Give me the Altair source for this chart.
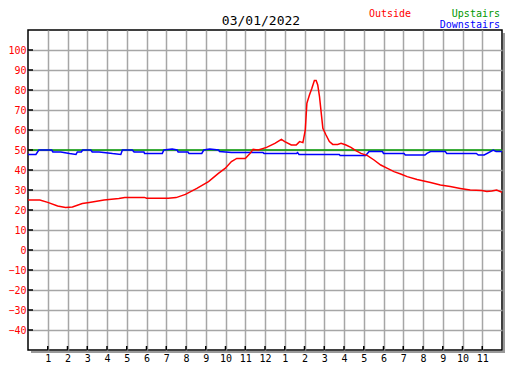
import altair as alt
import pandas as pd

# ---- data ----
hour_ticks = list(range(1, 24))
temp_ticks = list(range(-40, 101, 10))

out_h = [0, 0.6, 1.0, 1.5, 1.9, 2.25, 2.75, 3.1, 3.85, 4.6, 4.9, 5.9, 6.0, 7.1, 7.5,
         7.97, 8.55, 9.14, 9.64, 9.98, 10.3, 10.57, 11.0, 11.24, 11.4, 11.66, 12.08,
         12.5, 12.83, 13.0, 13.33, 13.58, 13.75, 13.92, 14.04, 14.12, 14.25, 14.37,
         14.5, 14.59, 14.67, 14.76, 14.84, 14.93, 15.09, 15.26, 15.43, 15.68, 15.85,
         16.1, 16.35, 16.6, 16.86, 17.19, 17.52, 17.86, 18.2, 18.53, 18.87, 19.2,
         19.7, 20.38, 20.88, 21.38, 21.89, 22.39, 22.98, 23.23, 23.48, 23.73, 24.0]
out_v = [25, 25, 23.8, 22, 21.3, 21.5, 23.2, 23.8, 25, 25.8, 26.3, 26.3, 25.9, 25.9, 26.2,
         27.8, 30.8, 34.2, 38.3, 40.8, 44.2, 45.8, 45.8, 48.3, 50.3, 50, 51.3,
         53.3, 55.3, 54.2, 52.5, 52.5, 54.2, 53.7, 60, 73.3, 77.5, 80.8,
         84.7, 84.7, 82.5, 76.7, 69.2, 60.8, 57.5, 54.2, 52.8, 52.8, 53.3,
         52.5, 51.3, 49.7, 48.3, 47.2, 45, 42.5, 40.8, 39.2, 38, 36.7,
         35.3, 33.7, 32.5, 31.7, 30.8, 30, 29.7, 29.2, 29.5, 30, 28.8]

up_h = [0, 24]
up_v = [50, 50]

down_h = [0, 0.4, 0.55, 1.2, 1.26, 1.66, 2.1, 2.43, 2.5, 2.7, 2.77, 3.18, 3.25, 3.6,
          4.28, 4.7, 4.78, 5.28, 5.37, 5.87, 5.9, 6.8, 6.88, 7.3, 7.55, 7.6, 8.1,
          8.15, 8.8, 8.9, 9.2, 9.65, 9.7, 10.3, 11.9, 11.95, 13.6, 13.65, 13.72,
          15.76, 15.8, 17.1, 17.27, 17.95, 18.0, 19.04, 19.1, 20.1, 20.2, 20.38,
          21.13, 21.2, 22.7, 22.8, 23.1, 23.56, 23.7, 24.0]
down_v = [47.8, 47.8, 50, 50, 49, 49, 48.2, 47.8, 49, 49, 50, 50, 49, 49,
          48.2, 47.8, 50, 50, 49, 49, 48.3, 48.3, 50, 50.5, 50, 49, 49,
          48.3, 48.3, 50, 50.5, 50, 49.2, 48.7, 48.7, 48.3, 48.3, 48.7, 47.8,
          47.8, 47.3, 47.3, 49.2, 49.2, 48.3, 48.3, 47.5, 47.5, 48.3, 49.2,
          49.2, 48.3, 48.3, 47.5, 47.5, 50, 49.2, 49.2]

W, H = 474, 320
MONO = "DejaVu Sans Mono"

xs = alt.Scale(domain=[0, 24], nice=False, zero=False)
ys = alt.Scale(domain=[-50, 110], nice=False, zero=False)

df_out = pd.DataFrame({"h": out_h, "v": out_v})
df_up = pd.DataFrame({"h": up_h, "v": up_v})
df_down = pd.DataFrame({"h": down_h, "v": down_v})
df_xt = pd.DataFrame({"h": hour_ticks})
df_yt = pd.DataFrame({"v": temp_ticks})
one = pd.DataFrame({"a": [0]})

x_axis = alt.Axis(values=hour_ticks, grid=True, gridColor="#a6a6a6", gridWidth=1.5,
                  domain=False, ticks=False, tickSize=0, labelPadding=3,
                  labelFont=MONO, labelFontSize=10, labelColor="black",
                  labelExpr="datum.value % 12 == 0 ? '12' : '' + (datum.value % 12)",
                  title=None, labelFlush=False, labelOverlap=False, labelBound=False)
y_axis = alt.Axis(values=temp_ticks, grid=True, gridColor="#a6a6a6", gridWidth=1.5,
                  domain=False, ticks=False, tickSize=0, labelPadding=2,
                  labelFont=MONO, labelFontSize=10, labelColor="red",
                  title=None, labelFlush=False, labelOverlap=False, labelBound=False)


def X(f="h"):
    return alt.X(f + ":Q", scale=xs, axis=x_axis)


def Y(f="v"):
    return alt.Y(f + ":Q", scale=ys, axis=y_axis)


up_line = alt.Chart(df_up).mark_line(color="#009900", strokeWidth=1.5).encode(
    x=X(), y=Y())
down_line = alt.Chart(df_down).mark_line(color="#0000ff", strokeWidth=1.5).encode(
    x=X(), y=Y())
out_line = alt.Chart(df_out).mark_line(color="#ff0000", strokeWidth=1.5).encode(
    x=X(), y=Y())

xticks = alt.Chart(df_xt).mark_rule(color="black", strokeWidth=1.5).encode(
    x=X(), y=alt.value(H - 4), y2=alt.value(H))
yticks = alt.Chart(df_yt).mark_rule(color="black", strokeWidth=1.5).encode(
    y=Y(), x=alt.value(0), x2=alt.value(5))

shadow_r = alt.Chart(one).mark_rule(color="#999999", strokeWidth=2).encode(
    x=alt.value(W + 2), y=alt.value(3), y2=alt.value(H + 3))
shadow_b = alt.Chart(one).mark_rule(color="#999999", strokeWidth=2).encode(
    y=alt.value(H + 2), x=alt.value(3), x2=alt.value(W + 3))

title = alt.Chart(one).mark_text(text="03/01/2022", font=MONO, fontSize=13,
                                 color="black", align="center",
                                 baseline="alphabetic").encode(
    x=alt.value(233), y=alt.value(-5))
leg_out = alt.Chart(one).mark_text(text="Outside", font=MONO, fontSize=10,
                                   color="#ff0000", align="left",
                                   baseline="alphabetic").encode(
    x=alt.value(341), y=alt.value(-13))
leg_up = alt.Chart(one).mark_text(text="Upstairs", font=MONO, fontSize=10,
                                  color="#009900", align="right",
                                  baseline="alphabetic").encode(
    x=alt.value(472), y=alt.value(-13))
leg_down = alt.Chart(one).mark_text(text="Downstairs", font=MONO, fontSize=10,
                                    color="#0000ff", align="right",
                                    baseline="alphabetic").encode(
    x=alt.value(472), y=alt.value(-2))

chart = alt.layer(
    up_line, down_line, out_line, xticks, yticks, shadow_r, shadow_b,
    title, leg_out, leg_up, leg_down
).properties(
    width=W, height=H,
    autosize=alt.AutoSizeParams(type="none"),
    padding={"left": 20, "top": 22, "right": 17, "bottom": 12},
    background="white",
).configure_view(
    stroke="black", strokeWidth=1.5
).configure_axis(labelOverlap=False)

chart.save("out.html", embed_options={"renderer": "svg", "actions": False})
